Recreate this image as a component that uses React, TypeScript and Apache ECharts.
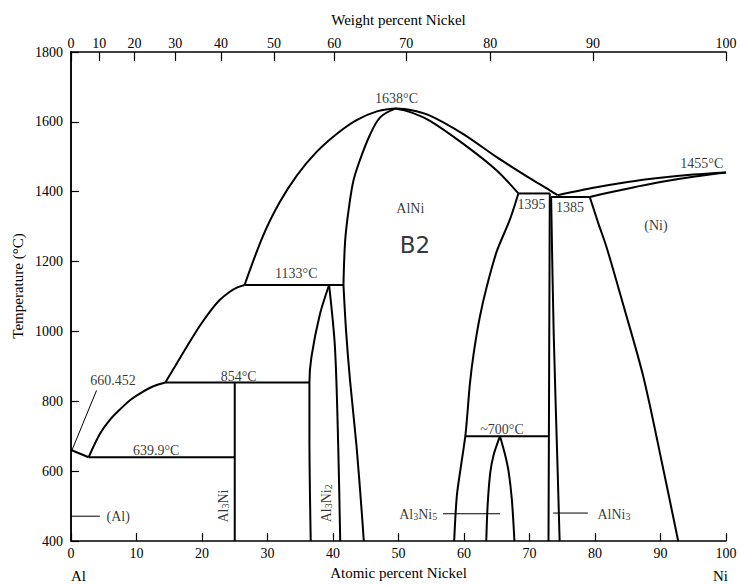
import React, { useEffect, useRef } from "react";
import * as echarts from "echarts";

// ---- axis ticks ----
const atomicTicks = [0, 10, 20, 30, 40, 50, 60, 70, 80, 90, 100];
const weightTicks = [0, 10, 20, 30, 40, 50, 60, 70, 80, 90, 100];
// atomic-percent position of each weight-percent tick
const weightTickAt = [0, 4.3, 9.7, 15.9, 22.9, 31.0, 40.2, 51.2, 64.0, 79.7, 100];
const tempTicks = [400, 600, 800, 1000, 1200, 1400, 1600, 1800];

// ---- phase boundaries: [atomic % Ni, temperature °C] ----
const alLiquidus = [[0, 660.452], [2.7, 639.9]];
const liquidusA = [[2.7, 639.9], [4.4, 706], [6.0, 748], [7.5, 777], [9.0, 803], [10.5, 822], [12.0, 838], [13.3, 848], [14.4, 854]];
const liquidusB = [[14.4, 854], [16.1, 907], [18.0, 966], [19.7, 1017], [21.3, 1059], [22.7, 1090], [24.2, 1113], [25.4, 1126], [26.5, 1133]];
const liquidusC = [[26.5, 1133], [29.4, 1277], [31.9, 1371], [34.5, 1447], [37.5, 1514], [40.6, 1566], [43.6, 1605], [46.7, 1630], [49.5, 1638]];
const liquidusD = [[49.5, 1638], [51.8, 1634], [54.8, 1618], [59.9, 1565], [65, 1499], [70.1, 1438], [73.1, 1404], [74.3, 1390]];
const alniSolidusLeft = [[41.6, 1133], [41.7, 1200], [41.9, 1270], [42.4, 1350], [43.1, 1430], [44.1, 1490], [45.6, 1561], [47.2, 1613], [49.5, 1638]];
const alniSolidusRight = [[49.5, 1638], [51.8, 1628], [54.8, 1603], [59.9, 1537], [65, 1461], [68.3, 1395]];
const alniLeftLow = [[41.6, 1133], [42.0, 1000], [42.6, 860], [43.6, 670], [44.4, 480], [44.7, 400]];
const alniRight = [[68.3, 1395], [67, 1320], [65, 1229], [63.5, 1130], [62.4, 1040], [61.5, 940], [60.9, 850], [60.5, 760], [60.2, 700], [59.5, 610], [58.9, 528], [58.5, 400]];
const al3ni2Left = [[39.4, 1133], [38.0, 1049], [36.7, 926], [36.4, 854], [36.4, 700], [36.6, 400]];
const al3ni2Right = [[39.4, 1133], [40.3, 954], [40.8, 670], [41.1, 400]];
const al3niLine = [[25, 854], [25, 400]];
const al3ni5Left = [[63.4, 400], [63.6, 500], [64.0, 594], [64.5, 645], [65.5, 700]];
const al3ni5Right = [[65.5, 700], [66.3, 645], [66.8, 600], [67.3, 520], [67.7, 400]];
const alni3Left = [[73.1, 1395], [73.0, 900], [72.9, 400]];
const alni3Right = [[73.3, 1385], [73.7, 990], [74.3, 600], [74.6, 400]];
const niLiquidus = [[74.3, 1390], [80, 1412], [85, 1428], [90, 1440], [95, 1449], [100, 1455]];
const niSolidus = [[79.2, 1385], [82, 1397], [86, 1413], [90, 1428], [95, 1443], [100, 1455]];
const niSolvus = [[79.2, 1385], [80.5, 1310], [81.8, 1239], [84.3, 1077], [87.4, 869], [90.3, 617], [92.7, 400]];
// isotherms
const iso639 = [[2.7, 639.9], [25, 639.9]];
const iso854 = [[14.4, 854], [36.4, 854]];
const iso1133 = [[26.5, 1133], [41.6, 1133]];
const iso1395 = [[68.3, 1395], [73.1, 1395]];
const iso1385 = [[73.3, 1385], [79.2, 1385]];
const iso700 = [[60.2, 700], [72.9, 700]];
// leader lines
const leader660 = [[0.15, 660], [3.9, 831]];
const leaderAl = [[0, 471], [4.4, 471]];
const leaderAl3Ni5 = [[56.8, 478], [65.5, 478]];
const leaderAlNi3 = [[73.6, 480], [78.9, 480]];

// ---- text annotations: [text, atomic %, temperature, rotation] ----
const annotations: [string, number, number, number][] = [
  ["1638°C", 49.7, 1667, 0],
  ["AlNi", 51.8, 1352, 0],
  ["1133°C", 34.4, 1165, 0],
  ["854°C", 25.6, 871, 0],
  ["639.9°C", 13.0, 658, 0],
  ["660.452", 6.4, 860, 0],
  ["1395", 70.3, 1364, 0],
  ["1385", 76.2, 1354, 0],
  ["1455°C", 96.3, 1480, 0],
  ["(Ni)", 89.3, 1304, 0],
  ["~700°C", 65.8, 718, 0],
  ["(Al)", 7.2, 471, 0],
  ["{b|Al}{s|3}{b|Ni}", 23.1, 500, 90],
  ["{b|Al}{s|3}{b|Ni}{s|2}", 38.8, 508, 90],
  ["{b|Al}{s|3}{b|Ni}{s|5}", 53.0, 478, 0],
  ["{b|AlNi}{s|3}", 82.9, 480, 0],
];
const b2Label: [string, number, number] = ["B2", 52.5, 1248];

const SERIF = "'Liberation Serif', 'DejaVu Serif', serif";

export default function App() {
  const ref = useRef<HTMLDivElement>(null);
  useEffect(() => {
    if (!ref.current) return;
    const chart = echarts.init(ref.current, null, { renderer: "svg" });

    const curves: { data: number[][]; smooth: number; width?: number }[] = [
      { data: alLiquidus, smooth: 0 },
      { data: liquidusA, smooth: 0.3 },
      { data: liquidusB, smooth: 0.3 },
      { data: liquidusC, smooth: 0.35 },
      { data: liquidusD, smooth: 0.3 },
      { data: alniSolidusLeft, smooth: 0.35 },
      { data: alniSolidusRight, smooth: 0.3 },
      { data: alniLeftLow, smooth: 0.3 },
      { data: alniRight, smooth: 0.3 },
      { data: al3ni2Left, smooth: 0.3 },
      { data: al3ni2Right, smooth: 0.3 },
      { data: al3niLine, smooth: 0 },
      { data: al3ni5Left, smooth: 0.3 },
      { data: al3ni5Right, smooth: 0.3 },
      { data: alni3Left, smooth: 0 },
      { data: alni3Right, smooth: 0.3 },
      { data: niLiquidus, smooth: 0.3 },
      { data: niSolidus, smooth: 0.3 },
      { data: niSolvus, smooth: 0.3 },
      { data: iso639, smooth: 0 },
      { data: iso854, smooth: 0 },
      { data: iso1133, smooth: 0 },
      { data: iso1395, smooth: 0 },
      { data: iso1385, smooth: 0 },
      { data: iso700, smooth: 0 },
      { data: leader660, smooth: 0, width: 1 },
      { data: leaderAl, smooth: 0, width: 1 },
      { data: leaderAl3Ni5, smooth: 0, width: 1 },
      { data: leaderAlNi3, smooth: 0, width: 1 },
    ];

    const lineSeries = curves.map((c) => ({
      type: "line",
      data: c.data,
      smooth: c.smooth,
      showSymbol: false,
      symbol: "none",
      silent: true,
      clip: true,
      lineStyle: { color: "#000", width: c.width ?? 2 },
      z: 3,
    }));

    const rich = {
      b: { fontFamily: SERIF, fontSize: 14, color: "#000", lineHeight: 16, verticalAlign: "bottom" },
      s: { fontFamily: SERIF, fontSize: 10, color: "#000", lineHeight: 8, verticalAlign: "bottom" },
    };

    const labelSeries = {
      type: "scatter",
      symbolSize: 0,
      silent: true,
      z: 5,
      data: annotations.map(([t, x, y, r]) => ({
        value: [x, y],
        label: {
          show: true,
          formatter: t,
          rotate: r,
          position: [0, 0],
          align: "center",
          verticalAlign: "middle",
          fontFamily: SERIF,
          fontSize: 14,
          color: "#000",
          rich,
        },
      })),
    };

    const b2Series = {
      type: "scatter",
      symbolSize: 0,
      silent: true,
      z: 5,
      data: [
        {
          value: [b2Label[1], b2Label[2]],
          label: {
            show: true,
            formatter: b2Label[0],
            position: [0, 0],
            align: "center",
            verticalAlign: "middle",
            fontFamily: "'DejaVu Sans', sans-serif",
            fontSize: 23,
            color: "#000",
          },
        },
      ],
    };

    const axisText = { fontFamily: SERIF, fontSize: 14, color: "#000" };
    const plain = (v: number) => String(v);

    chart.setOption({
      animation: false,
      backgroundColor: "#fff",
      grid: { left: 71, right: 14, top: 52, bottom: 40, containLabel: false },
      xAxis: [
        {
          type: "value",
          position: "bottom",
          min: 0,
          max: 100,
          interval: 10,
          axisLine: { show: true, lineStyle: { color: "#000", width: 1.5 } },
          axisTick: { show: true, inside: true, length: 8, lineStyle: { color: "#000", width: 1.2 }, customValues: atomicTicks },
          axisLabel: { ...axisText, margin: 5, customValues: atomicTicks, formatter: plain },
          splitLine: { show: false },
          name: "Atomic percent Nickel",
          nameLocation: "middle",
          nameGap: 24,
          nameTextStyle: { fontFamily: SERIF, fontSize: 15, color: "#000" },
        },
        {
          type: "value",
          position: "top",
          min: 0,
          max: 100,
          axisLine: { show: true, lineStyle: { color: "#000", width: 1.5 } },
          axisTick: { show: true, inside: true, length: 9, lineStyle: { color: "#000", width: 1.2 }, customValues: weightTickAt },
          axisLabel: {
            ...axisText,
            margin: 2,
            customValues: weightTickAt,
            formatter: (v: number) => {
              const i = weightTickAt.findIndex((a) => Math.abs(a - v) < 1e-6);
              return i >= 0 ? String(weightTicks[i]) : "";
            },
          },
          splitLine: { show: false },
          name: "Weight percent Nickel",
          nameLocation: "middle",
          nameGap: 25,
          nameTextStyle: { fontFamily: SERIF, fontSize: 15, color: "#000" },
        },
      ],
      yAxis: [
        {
          type: "value",
          position: "left",
          min: 400,
          max: 1800,
          interval: 200,
          axisLine: { show: true, lineStyle: { color: "#000", width: 1.5 } },
          axisTick: { show: true, inside: true, length: 8, lineStyle: { color: "#000", width: 1.2 }, customValues: tempTicks },
          axisLabel: { ...axisText, margin: 8, customValues: tempTicks, formatter: plain },
          splitLine: { show: false },
        },
        {
          type: "value",
          position: "right",
          min: 400,
          max: 1800,
          axisLine: { show: true, lineStyle: { color: "#000", width: 1.5 } },
          axisTick: { show: false },
          axisLabel: { show: false },
          splitLine: { show: false },
        },
      ],
      graphic: [
        {
          type: "text",
          x: 18,
          y: 286,
          rotation: Math.PI / 2,
          style: { text: "Temperature (°C)", font: `15px ${SERIF}`, fill: "#000", align: "center", verticalAlign: "middle" },
        },
        { type: "text", left: 71, top: 568, style: { text: "Al", font: `15px ${SERIF}`, fill: "#000" } },
        { type: "text", left: 713, top: 568, style: { text: "Ni", font: `15px ${SERIF}`, fill: "#000" } },
      ],
      series: [...lineSeries, labelSeries, b2Series],
    });

    return () => chart.dispose();
  }, []);

  return (
    <div
      ref={ref}
      style={{ position: "absolute", left: 0, top: 0, width: 740, height: 585 }}
    />
  );
}
